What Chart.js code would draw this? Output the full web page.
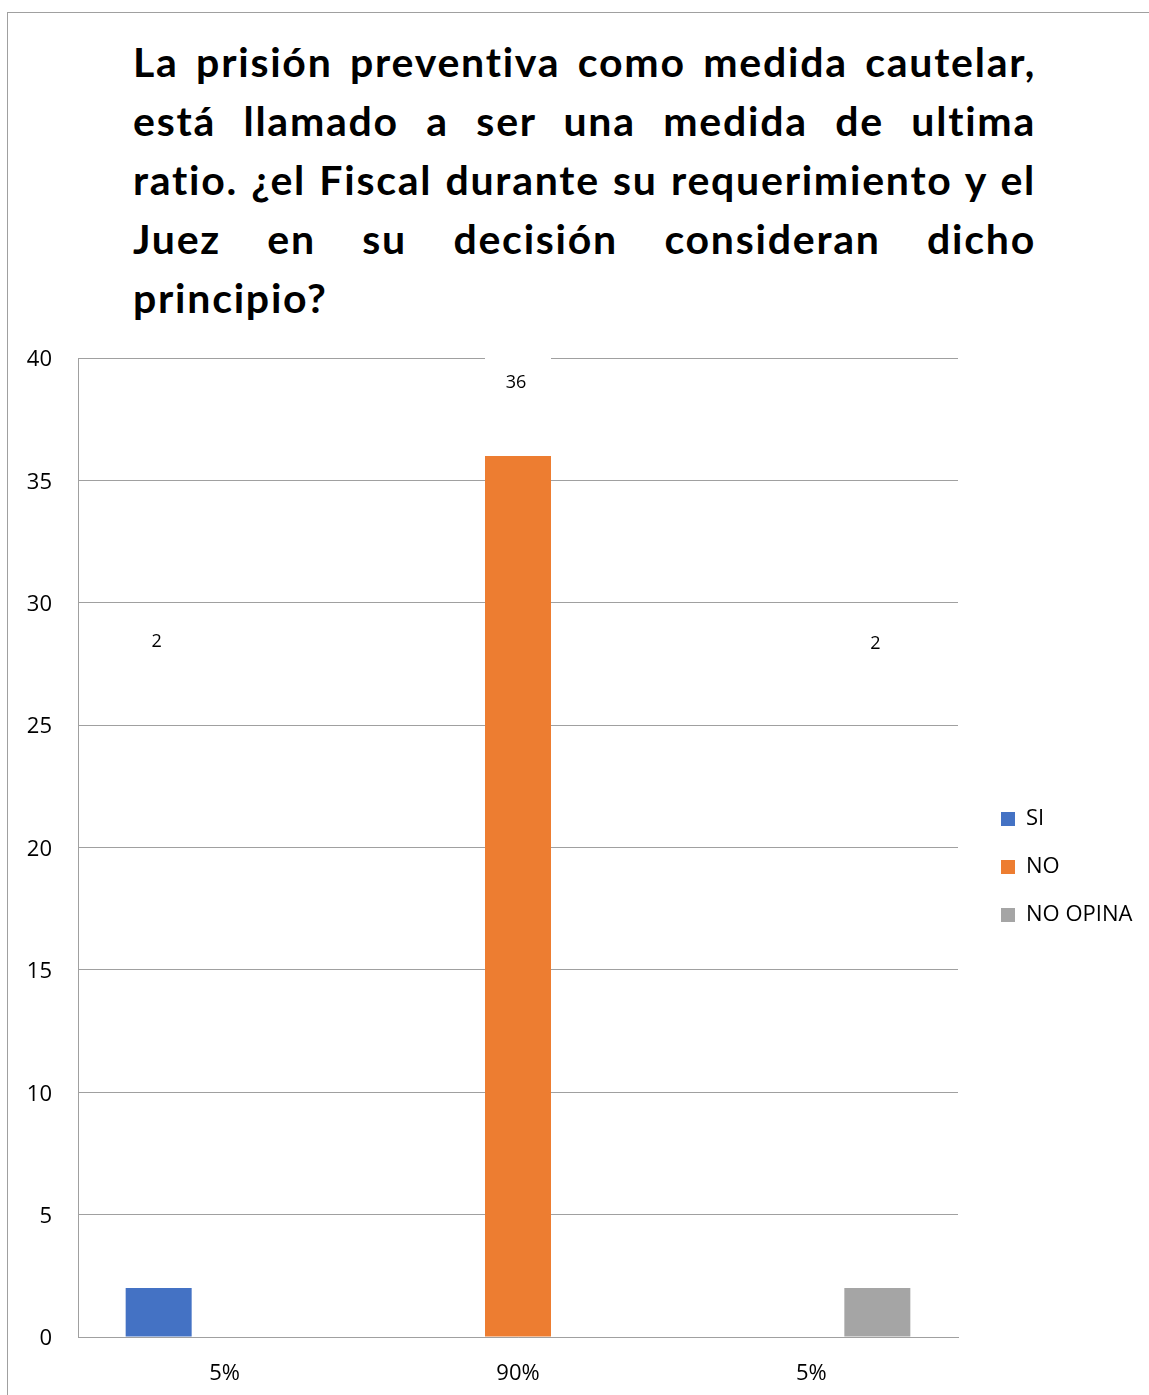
<!DOCTYPE html>
<html>
<head>
<meta charset="utf-8">
<script src="https://cdn.jsdelivr.net/npm/chart.js@4"></script>
<style>
  html, body { margin: 0; padding: 0; background: #fff; }
  #wrap { position: relative; width: 1149px; height: 1395px; overflow: hidden; }
  #frame { position: absolute; left: 7px; top: 12px; width: 1300px; height: 1500px;
           border-left: 1px solid #a0a0a0; border-top: 1px solid #a0a0a0; }
  #title { position: absolute; left: 133px; top: 32px; width: 903px; color: #000;
           font-family: Lato, "Open Sans", sans-serif; font-weight: bold; font-size: 41px; line-height: 59px; }
  .ln { text-align: justify; text-align-last: justify; }
  .ln.last { text-align-last: left; }
  #chart { position: absolute; left: 0; top: 0; }
</style>
</head>
<body>
<div id="wrap">
  <div id="frame"></div>
  <div id="title">
    <div class="ln">La prisión preventiva como medida cautelar,</div>
    <div class="ln">está llamado a ser una medida de ultima</div>
    <div class="ln">ratio. ¿el Fiscal durante su requerimiento y el</div>
    <div class="ln">Juez en su decisión consideran dicho</div>
    <div class="ln last">principio?</div>
  </div>
  <canvas id="chart" width="1149" height="1395"></canvas>
</div>
<script>
const categories = ['5%', '90%', '5%'];
const siValues = [2, 0, 0];
const noValues = [0, 36, 0];
const noOpinaValues = [0, 0, 2];
const seriesLabels = ['SI', 'NO', 'NO OPINA'];
const yMax = 40;
const yStep = 5;

const axisFont = { family: 'Open Sans', size: 22 };
const legendFont = { family: 'Open Sans', size: 22 };
const gridColor = '#a0a0a0';

// widen the title letters a little so the longest line fills the box like the original
const titleEl = document.querySelector('#title');
const mctx = document.createElement('canvas').getContext('2d');
mctx.font = 'bold 41px Lato';
let widest = 0, widestChars = 1;
document.querySelectorAll('#title .ln').forEach(ln => {
  const w = mctx.measureText(ln.textContent).width;
  if (w > widest) { widest = w; widestChars = ln.textContent.length; }
});
if (widest < 895) titleEl.style.letterSpacing = Math.min(2, (895 - widest) / widestChars).toFixed(2) + 'px';
else titleEl.style.fontSize = (41 * 895 / widest).toFixed(1) + 'px';

// legend width, so that the plot ends at the right place
mctx.font = legendFont.size + 'px ' + legendFont.family;
const legendTextW = Math.max(...seriesLabels.map(s => mctx.measureText(s).width));
const legendPad = 26;
const legendW = legendPad + 14 + legendFont.size / 2 + legendTextW + 10;
const padRight = Math.max(0, 1149 - 975 - legendW);

// data labels (Excel put them high above the bars)
const labelLevels = [28.4, 39.0, 28.3];
const dataLabels = {
  id: 'dataLabels',
  afterDatasetsDraw(chart) {
    const ctx = chart.ctx;
    const y = chart.scales.y;
    ctx.save();
    ctx.font = '18px "Open Sans"';
    ctx.textAlign = 'center';
    ctx.textBaseline = 'middle';
    chart.data.datasets.forEach((ds, di) => {
      const meta = chart.getDatasetMeta(di);
      ds.data.forEach((v, i) => {
        if (!v) return;
        const bar = meta.data[i];
        const ly = y.getPixelForValue(labelLevels[di]);
        ctx.fillStyle = '#fff';
        ctx.fillRect(bar.x - bar.width / 2, ly - 26, bar.width, 52);
        ctx.fillStyle = '#000';
        ctx.fillText(String(v), bar.x - 2, ly);
      });
    });
    ctx.restore();
  }
};

const hiddenAxis = {
  grid: { display: false },
  border: { display: false },
  ticks: { display: false }
};

new Chart(document.querySelector('#chart'), {
  type: 'bar',
  data: {
    labels: categories,
    datasets: [
      { label: seriesLabels[0], data: siValues, backgroundColor: '#4472C4' },
      { label: seriesLabels[1], data: noValues, backgroundColor: '#ED7D31' },
      { label: seriesLabels[2], data: noOpinaValues, backgroundColor: '#A5A5A5' }
    ]
  },
  options: {
    responsive: false,
    animation: false,
    devicePixelRatio: 1,
    categoryPercentage: 0.675,
    barPercentage: 1,
    layout: { padding: { top: 339, bottom: 0, left: 0, right: padRight } },
    scales: {
      x: {
        grid: { display: false },
        border: { display: true, color: gridColor, width: 1 },
        ticks: { color: '#000', font: axisFont, padding: 16 },
        afterFit(s) { s.height = 58; }
      },
      y: {
        min: 0,
        max: yMax,
        ticks: { stepSize: yStep, color: '#000', font: axisFont, padding: 26, labelOffset: 2 },
        grid: { color: gridColor, drawTicks: false },
        border: { display: true, color: gridColor },
        afterFit(s) { s.width = 78; }
      },
      gapTop: Object.assign({ type: 'linear', position: 'top', afterFit(s) { s.height = 19; } }, hiddenAxis),
      gapRight: Object.assign({ type: 'linear', position: 'right', afterFit(s) { s.width = 17; } }, hiddenAxis)
    },
    plugins: {
      legend: {
        position: 'right',
        labels: { boxWidth: 14, boxHeight: 14, padding: legendPad, color: '#000', font: legendFont }
      },
      tooltip: { enabled: false }
    }
  },
  plugins: [dataLabels]
});
</script>
</body>
</html>
